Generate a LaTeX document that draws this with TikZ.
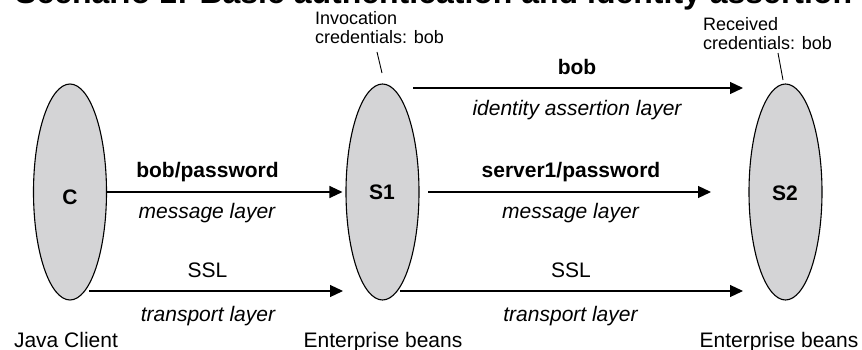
\documentclass[tikz,border=0pt]{standalone}
\usepackage{fontspec}
\setmainfont{Liberation Sans}
\usetikzlibrary{arrows.meta,shapes.geometric}
\definecolor{beangray}{RGB}{212,212,214}
\begin{document}
\begin{tikzpicture}[x=1pt,y=-1pt,
  party/.style={ellipse, draw, line width=1.1pt, fill=beangray, inner sep=0pt,
    minimum width=73pt, minimum height=216pt},
  flow/.style={-{Triangle[length=13pt,width=12pt]}, line width=1.2pt},
  lbl/.style={anchor=base, inner sep=0pt, font=\fontsize{21}{24}\selectfont},
  blbl/.style={lbl, font=\bfseries\fontsize{21}{24}\selectfont},
  ilbl/.style={lbl, font=\itshape\fontsize{21}{24}\selectfont},
  note/.style={anchor=base west, inner sep=0pt, font=\fontsize{18}{20}\selectfont},
  leader/.style={line width=0.9pt}]
\useasboundingbox (0,0) rectangle (862,350);
\clip (0,0) rectangle (862,350);

% title
\node[anchor=base west, inner sep=0pt, font=\bfseries\fontsize{32}{36}\selectfont]
  (title) at (15,4) {Scenario 1: Basic authentication and identity assertion};

% the three parties
\node[party] (c)  at (70,192)    {};
\node[party] (s1) at (382.5,192) {};
\node[party] (s2) at (785.5,192) {};
\node[blbl, anchor=center] (clab)  at (70,197)  {C};
\node[blbl, anchor=center] (s1lab) at (382,192) {S1};
\node[blbl, anchor=center] (s2lab) at (785,193) {S2};

% captions under the parties
\node[lbl] (jc)  at (66,347)  {Java Client};
\node[lbl] (eb1) at (383,347) {Enterprise beans};
\node[lbl] (eb2) at (779,347) {Enterprise beans};

% credential notes
\node[note] (inv1) at (315,25) {Invocation};
\node[note] (inv2) at (315,44) {credentials: bob};
\node[note] (rec1) at (703,31) {Received};
\node[note] (rec2) at (703,50) {credentials: bob};
\coordinate (invA) at (377,52);
\coordinate (invB) at (382,73);
\coordinate (recA) at (778,53);
\coordinate (recB) at (783,80);
\draw[leader] (invA) -- (invB);
\draw[leader] (recA) -- (recB);

% client to S1
\coordinate (ct) at (89,291);
\coordinate (s1in) at (343,291);
\draw[flow, shorten >=3pt] (c.east) -- (s1.west);
\draw[flow] (ct) -- (s1in);
\node[blbl] (bp)  at (207.5,177) {bob/password};
\node[ilbl] (ml1) at (207,218)   {message layer};
\node[lbl]  (ssl1) at (207.5,277) {SSL};
\node[ilbl] (tl1) at (208,321)   {transport layer};

% S1 to S2
\coordinate (ia) at (413,88);
\coordinate (ib) at (743,88);
\coordinate (ma) at (428,192);
\coordinate (mb) at (711,192);
\coordinate (ta) at (400,291);
\coordinate (tb) at (743,291);
\draw[flow] (ia) -- (ib);
\draw[flow] (ma) -- (mb);
\draw[flow] (ta) -- (tb);
\node[blbl] (bob) at (577,75)   {bob};
\node[ilbl] (ial) at (577,116)  {identity assertion layer};
\node[blbl] (sp)  at (571,177)  {server1/password};
\node[ilbl] (ml2) at (570.5,218) {message layer};
\node[lbl]  (ssl2) at (571,277) {SSL};
\node[ilbl] (tl2) at (570.5,321) {transport layer};
\end{tikzpicture}
\end{document}
